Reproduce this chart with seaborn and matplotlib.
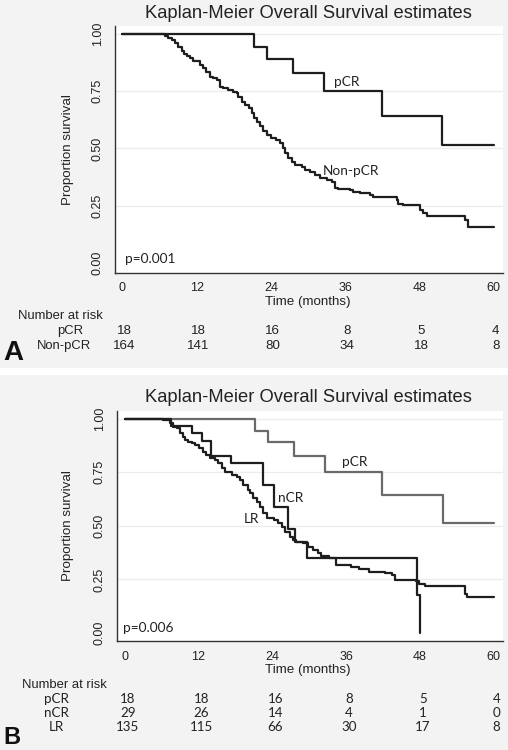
import matplotlib
matplotlib.use("Agg")
import matplotlib.pyplot as plt
from matplotlib.patches import Rectangle
import seaborn as sns

# ---------------- data ----------------
pcr_t = [0, 21.2, 23.3, 27.6, 32.6, 41.9, 51.7, 60]
pcr_s = [1.0, 0.944, 0.889, 0.827, 0.75, 0.643, 0.514, 0.514]

nonpcr_t = [0, 5.8, 6.9, 7.4, 8.0, 8.5, 9.0, 9.6, 9.9, 10.4,
            10.9, 11.5, 12.6, 13.1, 13.6, 14.2, 14.7, 15.3, 15.8, 16.3,
            17.1, 17.9, 18.5, 18.7, 19.3, 19.8, 20.4, 20.9, 21.2, 21.7,
            22.2, 22.8, 23.3, 24.1, 24.9, 25.5, 26.0, 26.3, 26.8, 27.4,
            27.9, 29.0, 29.5, 30.3, 31.1, 31.9, 33.0, 33.8, 34.4, 34.9,
            36.8, 37.3, 38.4, 40.0, 40.5, 44.3, 44.6, 45.4, 48.1, 48.6,
            49.2, 55.4, 55.9, 60]
nonpcr_s = [1.0, 0.997, 0.99, 0.983, 0.973, 0.958, 0.943, 0.925, 0.91, 0.903,
            0.893, 0.881, 0.864, 0.849, 0.834, 0.813, 0.806, 0.798, 0.769, 0.762,
            0.755, 0.747, 0.74, 0.726, 0.704, 0.689, 0.675, 0.653, 0.632, 0.617,
            0.598, 0.575, 0.559, 0.544, 0.535, 0.523, 0.501, 0.479, 0.457, 0.443,
            0.428, 0.421, 0.406, 0.399, 0.385, 0.37, 0.363, 0.355, 0.327, 0.322,
            0.319, 0.312, 0.305, 0.297, 0.29, 0.276, 0.258, 0.254, 0.232, 0.218,
            0.206, 0.189, 0.16, 0.16]

ncr_t = [0, 7.6, 10.9, 12.5, 14.1, 17.3, 22.5, 24.2, 26.5, 27.7, 29.6, 47.5, 48.0]
ncr_s = [1.0, 0.966, 0.931, 0.897, 0.828, 0.793, 0.69, 0.589, 0.485, 0.426, 0.351, 0.176, 0.0]

lr_t = [0, 6.3, 7.4, 7.9, 8.5, 9.0, 9.5, 9.8, 10.3, 10.9,
        11.4, 12.0, 12.8, 13.3, 13.9, 14.7, 15.2, 15.8, 16.3, 17.4,
        18.2, 18.8, 19.3, 20.1, 20.4, 20.9, 21.5, 22.0, 22.5, 23.1,
        24.2, 25.0, 25.5, 26.1, 26.9, 27.4, 27.9, 29.0, 29.8, 30.6,
        31.4, 31.9, 33.3, 34.4, 36.8, 38.1, 39.7, 42.4, 43.5, 44.0,
        47.3, 47.8, 48.9, 55.4, 55.7, 60]
lr_s = [1.0, 0.994, 0.978, 0.963, 0.955, 0.932, 0.916, 0.901, 0.893, 0.885,
        0.877, 0.862, 0.846, 0.831, 0.815, 0.807, 0.792, 0.768, 0.753, 0.737,
        0.729, 0.714, 0.69, 0.667, 0.651, 0.628, 0.612, 0.589, 0.558, 0.535,
        0.527, 0.512, 0.496, 0.473, 0.45, 0.434, 0.426, 0.418, 0.403, 0.387,
        0.372, 0.359, 0.348, 0.317, 0.306, 0.297, 0.286, 0.281, 0.27, 0.247,
        0.242, 0.228, 0.218, 0.184, 0.168, 0.168]

x_ticks = [0, 12, 24, 36, 48, 60]
y_ticks = [0.0, 0.25, 0.5, 0.75, 1.0]
y_tick_labels = ["0.00", "0.25", "0.50", "0.75", "1.00"]

risk_A_groups = ["pCR", "Non-pCR"]
risk_A_pcr = [18, 18, 16, 8, 5, 4]
risk_A_nonpcr = [164, 141, 80, 34, 18, 8]

risk_B_groups = ["pCR", "nCR", "LR"]
risk_B_pcr = [18, 18, 16, 8, 5, 4]
risk_B_ncr = [29, 26, 14, 4, 1, 0]
risk_B_lr = [135, 115, 66, 30, 17, 8]

title = "Kaplan-Meier Overall Survival estimates"

# ---------------- figure ----------------
sns.set_style("white")
W, H = 508, 750
fig = plt.figure(figsize=(W / 100, H / 100), dpi=100)
fig.patch.set_facecolor("white")

SANS = ["Liberation Sans", "DejaVu Sans"]
CAL = ["Lato", "DejaVu Sans"]
BG = "#f3f3f3"
INK = "#222222"


def fx(px):
    return px / W


def fy(py):
    return 1 - py / H


# panel backgrounds
fig.patches.append(Rectangle((0, fy(368)), 1, 368 / H, transform=fig.transFigure,
                             facecolor=BG, edgecolor="none", zorder=-10))
fig.patches.append(Rectangle((0, 0), 1, fy(375), transform=fig.transFigure,
                             facecolor=BG, edgecolor="none", zorder=-10))


def make_axes(left, top, right, bottom, x0, x60, y1, y0):
    ax = fig.add_axes([fx(left), fy(bottom), (right - left) / W, (bottom - top) / H])
    ax.set_facecolor("white")
    pxm = (x60 - x0) / 60.0
    pyu = (y0 - y1)
    ax.set_xlim(-(x0 - left) / pxm, 60 + (right - x60) / pxm)
    ax.set_ylim(-(bottom - y0) / pyu, 1 + (y1 - top) / pyu)
    for sp in ["top", "right"]:
        ax.spines[sp].set_visible(False)
    for sp in ["left", "bottom"]:
        ax.spines[sp].set_color("#333333")
        ax.spines[sp].set_linewidth(1.0)
    ax.set_xticks(x_ticks)
    ax.set_xticklabels([str(v) for v in x_ticks], family=SANS, fontsize=9, color=INK)
    ax.set_yticks(y_ticks)
    ax.set_yticklabels(y_tick_labels, family=SANS, fontsize=9, color=INK,
                       rotation=90, va="center", ha="right")
    ax.tick_params(axis="both", direction="out", length=4, width=0.9, color="#333333")
    ax.tick_params(axis="x", pad=3)
    ax.tick_params(axis="y", pad=4)
    for yv in [0.25, 0.5, 0.75, 1.0]:
        ax.axhline(yv, color="#ececec", lw=0.9, zorder=0)
    ax.set_xlabel("")
    ax.set_ylabel("")
    return ax


def step(ax, t, s, color, lw=1.6):
    sns.lineplot(x=t, y=s, ax=ax, drawstyle="steps-post", estimator=None,
                 sort=False, color=color, lw=lw, legend=False)


# ---------------- panel A ----------------
axA = make_axes(115, 26, 503, 272.7, 122.3, 493.7, 33.7, 263.3)
step(axA, pcr_t, pcr_s, "#1e1e1e")
step(axA, nonpcr_t, nonpcr_s, "#1e1e1e")
axA.text(34.2, 0.79, "pCR", family=CAL, fontsize=9.8, color=INK, va="center", ha="left")
axA.text(32.4, 0.40, "Non-pCR", family=CAL, fontsize=9.8, color=INK, va="center", ha="left")
axA.text(0.4, 0.02, "p=0.001", family=CAL, fontsize=9.8, color=INK, va="center", ha="left")

fig.text(fx(308), fy(13), title, family=SANS, fontsize=13.2, color=INK, ha="center", va="center")
fig.text(fx(68), fy(150), "Proportion survival", family=SANS, fontsize=9.6, color=INK,
         rotation=90, ha="center", va="center")
fig.text(fx(308), fy(302), "Time (months)", family=SANS, fontsize=9.6, color=INK,
         ha="center", va="center")
fig.text(fx(18), fy(316), "Number at risk", family=SANS, fontsize=9.4, color=INK,
         ha="left", va="center")
fig.text(fx(57), fy(331), risk_A_groups[0], family=SANS, fontsize=9.4, color=INK,
         ha="left", va="center")
fig.text(fx(37), fy(346), risk_A_groups[1], family=SANS, fontsize=9.4, color=INK,
         ha="left", va="center")
tickpxA = [122.3 + v * (493.7 - 122.3) / 60 for v in x_ticks]
for i, xp in enumerate(tickpxA):
    fig.text(fx(xp + 2), fy(331), str(risk_A_pcr[i]), family=SANS, fontsize=9.6,
             color=INK, ha="center", va="center")
    fig.text(fx(xp + 2), fy(346), str(risk_A_nonpcr[i]), family=SANS, fontsize=9.6,
             color=INK, ha="center", va="center")
fig.text(fx(3), fy(360), "A", family=SANS, fontsize=20, fontweight="bold",
         color="#111111", ha="left", va="baseline")

# ---------------- panel B ----------------
axB = make_axes(116.7, 411, 503, 641, 124.7, 493.7, 418.7, 633)
step(axB, pcr_t, pcr_s, "#6a6a6a")
step(axB, ncr_t, ncr_s, "#1e1e1e")
step(axB, lr_t, lr_s, "#1e1e1e")
axB.text(35.4, 0.80, "pCR", family=CAL, fontsize=9.8, color=INK, va="center", ha="left")
axB.text(25.0, 0.63, "nCR", family=CAL, fontsize=9.8, color=INK, va="center", ha="left")
axB.text(19.3, 0.53, "LR", family=CAL, fontsize=9.8, color=INK, va="center", ha="left")
axB.text(-0.2, 0.023, "p=0.006", family=CAL, fontsize=9.8, color=INK, va="center", ha="left")

fig.text(fx(308), fy(398), title, family=SANS, fontsize=13.2, color=INK, ha="center", va="center")
fig.text(fx(68), fy(526), "Proportion survival", family=SANS, fontsize=9.6, color=INK,
         rotation=90, ha="center", va="center")
fig.text(fx(308), fy(670), "Time (months)", family=SANS, fontsize=9.6, color=INK,
         ha="center", va="center")
fig.text(fx(22), fy(685), "Number at risk", family=SANS, fontsize=9.4, color=INK,
         ha="left", va="center")
rowsB = [699, 713, 727]
for g, yy in zip(risk_B_groups, rowsB):
    fig.text(fx(56), fy(yy), g, family=CAL, fontsize=9.6, color=INK, ha="center", va="center")
tickpxB = [124.7 + v * (493.7 - 124.7) / 60 for v in x_ticks]
for i, xp in enumerate(tickpxB):
    for vals, yy in zip([risk_B_pcr, risk_B_ncr, risk_B_lr], rowsB):
        fig.text(fx(xp + 3), fy(yy), str(vals[i]), family=CAL, fontsize=9.6,
                 color=INK, ha="center", va="center")
fig.text(fx(3), fy(744), "B", family=SANS, fontsize=17, fontweight="bold",
         color="#111111", ha="left", va="baseline")

fig.savefig("out.png", dpi=100, facecolor=fig.get_facecolor())
